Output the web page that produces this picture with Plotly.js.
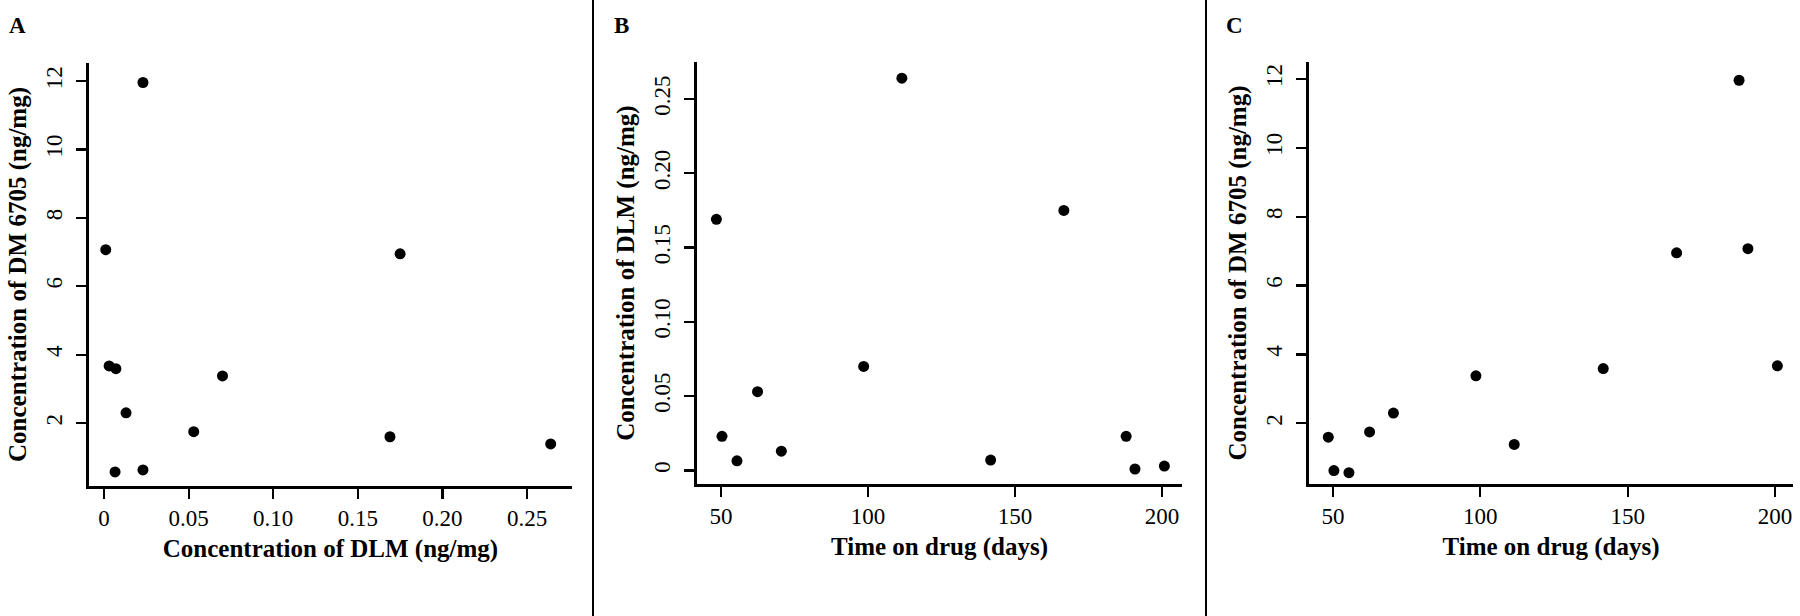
<!DOCTYPE html>
<html>
<head>
<meta charset="utf-8">
<script src="https://cdn.plot.ly/plotly-3.0.1.min.js"></script>
<style>
  html, body { margin: 0; padding: 0; background: #fff; }
  #chart { width: 1800px; height: 616px; }
</style>
</head>
<body>
<div id="chart"></div>
<script>
// one entry per patient, same order in every array
var days   = [111.5, 48.4, 166.6, 98.5, 62.4, 187.8, 50.3, 70.5, 141.7, 55.4, 200.8, 190.8];
var dlm    = [0.264, 0.169, 0.175, 0.070, 0.053, 0.023, 0.023, 0.013, 0.007, 0.0065, 0.003, 0.001];
var dm6705 = [1.39, 1.60, 6.95, 3.38, 1.75, 11.96, 0.63, 2.30, 3.59, 0.57, 3.67, 7.07];

// tick labels
var dlmTicks     = [0, 0.05, 0.10, 0.15, 0.20, 0.25];
var dlmTickText  = ['0', '0.05', '0.10', '0.15', '0.20', '0.25'];
var dmTicks      = [2, 4, 6, 8, 10, 12];
var dayTicks     = [50, 100, 150, 200];

var panelLetters = ['A', 'B', 'C'];

var W = 1800, H = 616;
var SERIF = '"Liberation Serif", "Times New Roman", serif';

// pixel box -> paper domain
function domX(l, r) { return [l / W, r / W]; }
function domY(top, bottom) { return [1 - bottom / H, 1 - top / H]; }

function axisStyle(extra) {
  var a = {
    showline: true,
    linewidth: 2.8,
    linecolor: '#000',
    showgrid: false,
    zeroline: false,
    ticks: 'outside',
    ticklen: 10,
    tickwidth: 2.2,
    tickcolor: '#000',
    tickfont: { family: SERIF, size: 23, color: '#000' },
    automargin: false
  };
  for (var k in extra) a[k] = extra[k];
  return a;
}

function titleOf(text, standoff) {
  return { text: text, standoff: standoff, font: { family: SERIF, size: 25, color: '#000', weight: 700 } };
}

var marker = { color: '#000', size: 11 };

var data = [
  { x: dlm,  y: dm6705, xaxis: 'x',  yaxis: 'y',  type: 'scatter', mode: 'markers', marker: marker },
  { x: days, y: dlm,    xaxis: 'x2', yaxis: 'y2', type: 'scatter', mode: 'markers', marker: marker },
  { x: days, y: dm6705, xaxis: 'x3', yaxis: 'y3', type: 'scatter', mode: 'markers', marker: marker }
];

var layout = {
  width: W,
  height: H,
  margin: { l: 0, r: 0, t: 0, b: 0 },
  paper_bgcolor: '#fff',
  plot_bgcolor: '#fff',
  showlegend: false,
  font: { family: SERIF, color: '#000' },

  xaxis: axisStyle({
    domain: domX(89, 572), anchor: 'y', range: [-0.0089, 0.2766],
    tickvals: dlmTicks, ticktext: dlmTickText,
    title: titleOf('Concentration of DLM (ng/mg)', 9)
  }),
  yaxis: axisStyle({
    domain: domY(63, 486), anchor: 'x', range: [0.16, 12.53],
    tickvals: dmTicks, tickangle: -90, ticklabelstandoff: 5,
    title: titleOf('Concentration of DM 6705 (ng/mg)', 9)
  }),

  xaxis2: axisStyle({
    domain: domX(697, 1182), anchor: 'y2', range: [41.8, 206.8],
    tickvals: dayTicks,
    title: titleOf('Time on drug (days)', 9)
  }),
  yaxis2: axisStyle({
    domain: domY(62, 484), anchor: 'x2', range: [-0.0091, 0.2749],
    tickvals: dlmTicks, ticktext: dlmTickText, tickangle: -90, ticklabelstandoff: 5,
    title: titleOf('Concentration of DLM (ng/mg)', 9)
  }),

  xaxis3: axisStyle({
    domain: domX(1309, 1793), anchor: 'y3', range: [41.85, 206.1],
    tickvals: dayTicks,
    title: titleOf('Time on drug (days)', 9)
  }),
  yaxis3: axisStyle({
    domain: domY(62, 484), anchor: 'x3', range: [0.24, 12.49],
    tickvals: dmTicks, tickangle: -90, ticklabelstandoff: 5,
    title: titleOf('Concentration of DM 6705 (ng/mg)', 9)
  }),

  // panel letters
  annotations: [
    { text: panelLetters[0], x: 7 / W,    y: 1 - 25 / H },
    { text: panelLetters[1], x: 612 / W,  y: 1 - 25 / H },
    { text: panelLetters[2], x: 1224 / W, y: 1 - 25 / H }
  ].map(function (a) {
    a.xref = 'paper'; a.yref = 'paper';
    a.xanchor = 'left'; a.yanchor = 'middle';
    a.showarrow = false;
    a.font = { family: SERIF, size: 23, color: '#000', weight: 700 };
    return a;
  }),

  // vertical dividers between panels
  shapes: [593, 1206].map(function (px) {
    return {
      type: 'line', xref: 'paper', yref: 'paper',
      x0: px / W, x1: px / W, y0: 0, y1: 1,
      line: { color: '#000', width: 2 }
    };
  })
};

Plotly.newPlot('chart', data, layout, { staticPlot: true, displayModeBar: false });
</script>
</body>
</html>
